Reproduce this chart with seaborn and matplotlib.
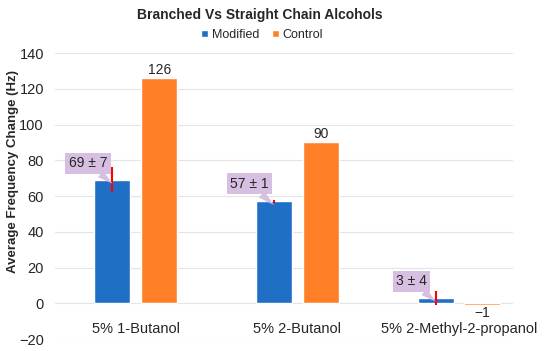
import matplotlib
matplotlib.use("Agg")
import matplotlib.pyplot as plt
import seaborn as sns
import pandas as pd

categories = ["5% 1-Butanol", "5% 2-Butanol", "5% 2-Methyl-2-propanol"]
series = ["Modified", "Control"]
modified = [69, 57, 3]
modified_err = [7, 1, 4]
control = [126, 90, -1]
callout_text = ["69 ± 7", "57 ± 1", "3 ± 4"]
yticks = [-20, 0, 20, 40, 60, 80, 100, 120, 140]

df = pd.DataFrame({
    "Category": categories * 2,
    "Series": [series[0]] * 3 + [series[1]] * 3,
    "Value": modified + control,
})

sns.set_style("white")
plt.rcParams["font.family"] = ["Liberation Sans", "DejaVu Sans"]

fig = plt.figure(figsize=(5.5, 3.51), dpi=100)
ax = fig.add_axes([0.1, 0.034, 0.833, 0.815])

blue = "#1f6fc6"
orange = "#ff7f27"
purple = "#d7bfe2"

sns.barplot(data=df, x="Category", y="Value", hue="Series", order=categories,
            hue_order=series, palette=[blue, orange], width=0.58, gap=0.23,
            saturation=1, errorbar=None, ax=ax, legend=True)

ax.set_xlim(-0.5, 2.335)
ax.set_ylim(-20, 140)
ax.set_yticks(yticks)
ax.set_yticklabels([f"{t}".replace("-", "\u2212") for t in yticks], fontsize=10.5)
ax.tick_params(axis="y", length=0, pad=8)
ax.set_xticks([])
ax.set_xlabel("")
ax.set_ylabel("Average Frequency Change (Hz)", fontsize=9.5, fontweight="bold")
ax.yaxis.set_label_coords(-0.078, 0.587)
ax.yaxis.grid(True, color="#e4e4e4", linewidth=0.8)
ax.set_axisbelow(True)
for s in ax.spines.values():
    s.set_visible(False)

# category labels below zero line
for i, c in enumerate(categories):
    ax.text(i, -14.5, c, ha="center", va="center", fontsize=10.5)

mod_bars = ax.containers[0]
ctl_bars = ax.containers[1]

# error bars on modified
xs = [p.get_x() + p.get_width() / 2 for p in mod_bars]
ax.errorbar(xs, modified, yerr=modified_err, fmt="none", ecolor="#ff0000",
            elinewidth=1.5, capsize=0, zorder=4)

# control labels
ax.bar_label(ctl_bars, labels=[f"{v}".replace("-", "\u2212") for v in control],
             fontsize=10, padding=1)

# callouts
offsets = [(-0.152, 9.2), (-0.152, 9.8), (-0.149, 9.3)]
for x, v, t, (dx, dy) in zip(xs, modified, callout_text, offsets):
    ax.annotate(t, xy=(x, v - 2), xytext=(x + dx, v + dy), ha="center", va="center",
                fontsize=10,
                bbox=dict(boxstyle="square,pad=0.25", fc=purple, ec="none"),
                arrowprops=dict(arrowstyle="wedge,tail_width=0.6,shrink_factor=0.5",
                                fc=purple, ec="none", shrinkA=0, shrinkB=0),
                zorder=5)

leg = ax.legend(loc="center", bbox_to_anchor=(0.452, 1.063), ncol=2, frameon=False,
                fontsize=9, handlelength=0.55, handleheight=0.55, handletextpad=0.3,
                columnspacing=1.0, borderaxespad=0)
fig.text(0.473, 0.957, "Branched Vs Straight Chain Alcohols", ha="center", va="center",
         fontsize=10, fontweight="bold")

fig.savefig("out.png", dpi=100)
